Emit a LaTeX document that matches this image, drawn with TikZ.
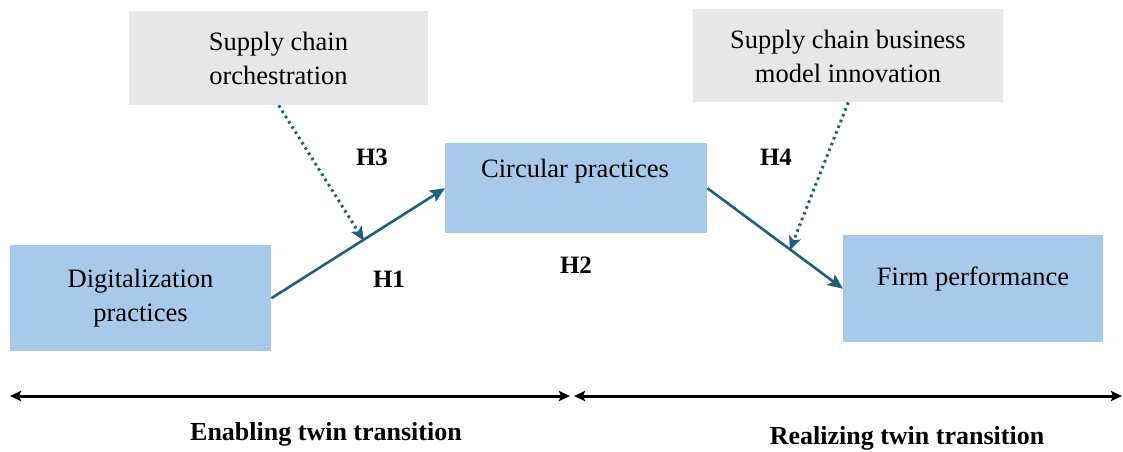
\documentclass[tikz,border=0pt]{standalone}
\usepackage{fontspec}
\setmainfont{Liberation Serif}
\usetikzlibrary{arrows.meta,calc}
\definecolor{boxblue}{HTML}{A9C9EB}
\definecolor{boxgray}{HTML}{E7E7E7}
\definecolor{arrowteal}{HTML}{1E5F80}
\begin{document}
\begin{tikzpicture}[x=1pt,y=-1pt,
  bluebox/.style={fill=boxblue,draw=none,inner sep=0pt,anchor=north west},
  graybox/.style={fill=boxgray,draw=none,inner sep=0pt,anchor=north west},
  boxtext/.style={font=\fontsize{26.5}{34}\selectfont,align=center,inner sep=0pt},
  hlabel/.style={font=\fontsize{25}{30}\selectfont\bfseries,inner sep=0pt},
  bottomtext/.style={font=\fontsize{26}{30}\selectfont\bfseries,inner sep=0pt,anchor=base},
  solidarrow/.style={draw=arrowteal,line width=2.6pt,-{Stealth[length=15pt,width=13pt,inset=3pt]}},
  dotarrow/.style={draw=arrowteal,line width=3pt,dash pattern=on 2.6pt off 3.6pt,-{Stealth[length=14pt,width=12pt,inset=3pt,sep=-1pt]}},
  spanarrow/.style={draw=black,line width=3pt,{Stealth[length=11pt,width=10pt,inset=2pt]}-{Stealth[length=11pt,width=10pt,inset=2pt]}}]
\useasboundingbox (0,0) rectangle (1123,451);

% boxes
\node[graybox,minimum width=299pt,minimum height=94pt] (orch) at (129,11) {};
\node[graybox,minimum width=310pt,minimum height=93pt] (smi) at (693,9) {};
\node[bluebox,minimum width=262pt,minimum height=90pt] (circ) at (445,143) {};
\node[bluebox,minimum width=261pt,minimum height=106pt] (dig) at (10,245) {};
\node[bluebox,minimum width=260pt,minimum height=107pt] (firm) at (843,235) {};

% box texts
\node[boxtext] (orchT) at (278.5,58) {Supply chain\\orchestration};
\node[boxtext] (smiT) at (848,56) {Supply chain business\\model innovation};
\node[boxtext] (circT) at (575,171) {Circular practices};
\node[boxtext] (digT) at (140.5,298) {Digitalization\\practices};
\node[boxtext] (firmT) at (973,279) {Firm performance};

% main arrows
\draw[solidarrow] (dig.east) -- (circ.west);
\draw[solidarrow] (circ.east) -- (firm.west);

% moderation arrows
\coordinate (m1) at ($(dig.east)!0.53!(circ.west)$);
\coordinate (m2) at ($(circ.east)!0.61!(firm.west)$);
\draw[dotarrow] (orch.south) -- (m1);
\draw[dotarrow] (smi.south) -- (m2);

% hypothesis labels
\node[hlabel] (h3) at (372,157) {H3};
\node[hlabel] (h1) at (389,279) {H1};
\node[hlabel] (h2) at (576,265) {H2};
\node[hlabel] (h4) at (776,157) {H4};

% bottom spans
\coordinate (s1) at (10,396);
\coordinate (s2) at (570,396);
\coordinate (s3) at (574,396);
\coordinate (s4) at (1122,396);
\draw[spanarrow] (s1) -- (s2);
\draw[spanarrow] (s3) -- (s4);
\node[bottomtext] (enab) at (326,440) {Enabling twin transition};
\node[bottomtext] (real) at (907,444) {Realizing twin transition};
\end{tikzpicture}
\end{document}
